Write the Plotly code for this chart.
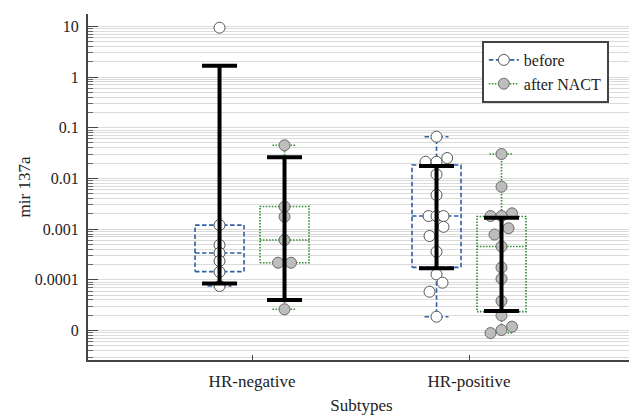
import plotly.graph_objects as go

# ---------------- data ----------------
categories = ["HR-negative", "HR-positive"]
series_names = ["before", "after NACT"]

# raw points per group
before_neg = [9.4, 0.0012, 0.000486, 0.000338, 0.000235, 0.000143, 0.0000755]
after_neg = [0.045, 0.00277, 0.00176, 0.00061, 0.000217, 0.000217, 0.0000262]
before_pos = [0.0664, 0.0252, 0.0213, 0.0213, 0.0120, 0.00471, 0.00181, 0.00181,
              0.00181, 0.00111, 0.000731, 0.000358, 0.000128, 0.0000877,
              0.0000582, 0.0000187]
after_pos = [0.0303, 0.00686, 0.00205, 0.00181, 0.00181, 0.00104, 0.000781,
             0.000454, 0.000175, 0.000105, 0.0000382, 0.0000198, 0.0000119,
             0.0000102, 0.0000089]

# horizontal swarm offsets of the points (pixels)
before_neg_dx = [0, 0, 0, 0, 0, 0, 0]
after_neg_dx = [0, 0, 0, 0, -6.5, 6.5, 0]
before_pos_dx = [0, 10.7, -11, 0, 0, 0, -8, 0, 7, 7, -7, 0, 0, 6, -7, 0]
after_pos_dx = [0, 0, 10.5, -11, 0, 7, -7, 0, 0, 0, 0, 0, 10.5, 0, -11]

# box statistics (computed on the log scale in the original)
box_q1 = [0.000145, 0.000217, 0.000176, 0.0000236]
box_median = [0.000338, 0.00061, 0.00181, 0.000454]
box_q3 = [0.0012, 0.0028, 0.0184, 0.00177]
box_low = [0.0000755, 0.0000262, 0.0000187, 0.0000089]
box_high = [0.0012, 0.045, 0.0664, 0.0303]

# thick black bars
bar_low = [0.000085, 0.00004, 0.000169, 0.0000243]
bar_high = [1.67, 0.026, 0.0176, 0.00168]

tick_vals = [1e-5, 1e-4, 1e-3, 1e-2, 1e-1, 1, 10]
tick_text = ["0", "0.0001", "0.001", "0.01", "0.1", "1", "10"]

group_cat = [0, 0, 1, 1]
group_ser = [0, 1, 0, 1]
points = [before_neg, after_neg, before_pos, after_pos]
points_dx = [before_neg_dx, after_neg_dx, before_pos_dx, after_pos_dx]

# ---------------- styling ----------------
FONT = "Liberation Serif"
PX_PER_UNIT = 217.0
offset = [-32.5 / PX_PER_UNIT, 32.5 / PX_PER_UNIT]
box_hw = 24.5 / PX_PER_UNIT
cap_hw = 12 / PX_PER_UNIT
bar_hw = 17.5 / PX_PER_UNIT
line_col = ["#2F5FA5", "#2E8B2E"]
line_dash = ["4.5px,2.5px", "1.5px,1.5px"]
fill_col = ["#FFFFFF", "#BDBDBD"]
edge_col = ["#555555", "#6A6A6A"]

fig = go.Figure()

for s in range(2):
    xs, ys = [], []
    for g in range(4):
        if group_ser[g] != s:
            continue
        x = group_cat[g] + offset[s]
        q1, md, q3 = box_q1[g], box_median[g], box_q3[g]
        lo, hi = box_low[g], box_high[g]
        xs += [x - box_hw, x + box_hw, x + box_hw, x - box_hw, x - box_hw, None]
        ys += [q1, q1, q3, q3, q1, None]
        xs += [x - box_hw, x + box_hw, None]
        ys += [md, md, None]
        if hi > q3:
            xs += [x, x, None, x - cap_hw, x + cap_hw, None]
            ys += [q3, hi, None, hi, hi, None]
        if lo < q1:
            xs += [x, x, None, x - cap_hw, x + cap_hw, None]
            ys += [q1, lo, None, lo, lo, None]
    fig.add_trace(go.Scatter(x=xs, y=ys, mode="lines", showlegend=False,
                             hoverinfo="skip",
                             line=dict(color=line_col[s], width=1.6,
                                       dash=line_dash[s])))

for g in range(4):
    s = group_ser[g]
    x0 = group_cat[g] + offset[s]
    fig.add_trace(go.Scatter(
        x=[x0 + d / PX_PER_UNIT for d in points_dx[g]], y=points[g],
        mode="markers", showlegend=False,
        marker=dict(size=11, color=fill_col[s],
                    line=dict(color=edge_col[s], width=1))))

bx, by = [], []
for g in range(4):
    x = group_cat[g] + offset[group_ser[g]]
    lo, hi = bar_low[g], bar_high[g]
    bx += [x - bar_hw, x + bar_hw, None, x, x, None, x - bar_hw, x + bar_hw, None]
    by += [hi, hi, None, hi, lo, None, lo, lo, None]
fig.add_trace(go.Scatter(x=bx, y=by, mode="lines", showlegend=False,
                         hoverinfo="skip",
                         line=dict(color="#000000", width=4)))

for s in range(2):
    fig.add_trace(go.Scatter(
        x=[None], y=[None], mode="lines+markers", name=series_names[s],
        line=dict(color=line_col[s], width=1.6, dash=line_dash[s]),
        marker=dict(size=11, color=fill_col[s],
                    line=dict(color=edge_col[s], width=1))))

# page body has an 8px default margin: size the figure to compensate
fig.update_layout(
    width=629, height=407,
    margin=dict(l=80, r=2, t=6, b=55),
    paper_bgcolor="white", plot_bgcolor="white",
    font=dict(family=FONT, size=16, color="#222222"),
    legend=dict(x=0.72, y=0.922, xanchor="left", yanchor="top",
                bordercolor="#444444", borderwidth=2, bgcolor="white",
                font=dict(family=FONT, size=16, color="#222222"),
                tracegroupgap=0),
    xaxis=dict(range=[-0.756, 1.765], tickmode="array",
               tickvals=[0, 1], ticktext=categories,
               showgrid=False, zeroline=False,
               showline=True, linecolor="#444444", linewidth=2,
               ticks="inside", ticklen=5, tickcolor="#444444",
               ticklabelstandoff=5,
               tickfont=dict(family=FONT, size=17, color="#222222"),
               title=dict(text="Subtypes", standoff=11,
                          font=dict(family=FONT, size=17, color="#222222"))),
    yaxis=dict(type="log", range=[-5.582, 1.243], tickmode="array",
               tickvals=tick_vals, ticktext=tick_text,
               showgrid=True, gridcolor="#DADADA", gridwidth=1,
               zeroline=False, showline=True, linecolor="#444444",
               linewidth=2, ticks="inside", ticklen=10, tickcolor="#444444",
               ticklabelstandoff=4,
               tickfont=dict(family=FONT, size=16, color="#222222"),
               minor=dict(tickmode="linear", dtick="D1", ticks="inside",
                          ticklen=5, tickcolor="#666666", showgrid=True,
                          gridcolor="#DADADA", gridwidth=1),
               title=dict(text="mir 137a", standoff=0,
                          font=dict(family=FONT, size=17, color="#222222"))),
)

fig.write_html("out.html")
